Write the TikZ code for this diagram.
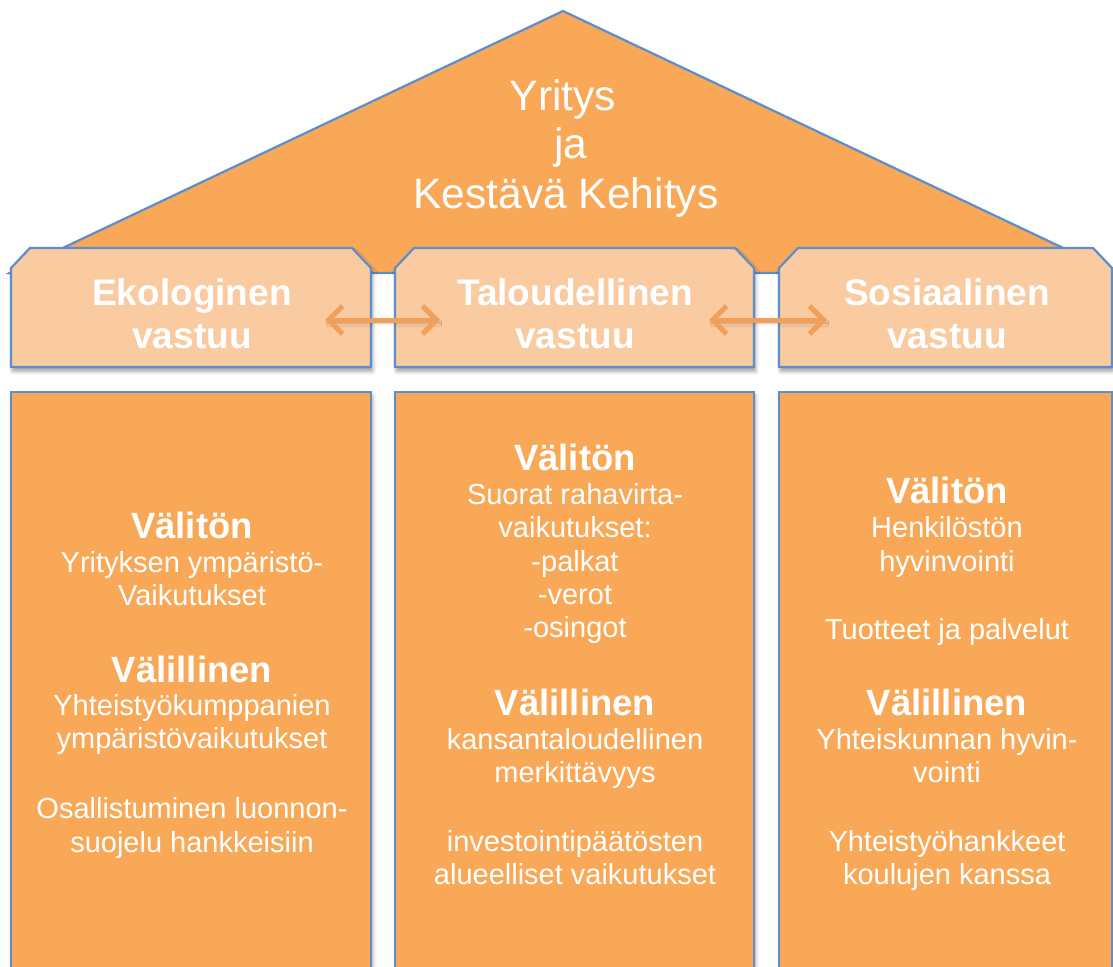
\documentclass[tikz,border=0pt]{standalone}
\usepackage{fontspec}
\setmainfont{Liberation Sans}
\usetikzlibrary{arrows.meta,shadows.blur}
\definecolor{roofc}{RGB}{249,168,87}
\definecolor{capc}{RGB}{250,202,160}
\definecolor{edgec}{RGB}{92,141,204}
\definecolor{arrc}{RGB}{240,160,90}
\tikzset{
  housepart/.style={draw=edgec, line width=2.2pt, line join=miter},
  roofpart/.style={housepart, fill=roofc},
  capbox/.style={housepart, fill=capc,
    blur shadow={shadow xshift=1.5pt, shadow yshift=-4pt, shadow blur radius=4pt, shadow opacity=40}},
  pillar/.style={housepart, fill=roofc,
    blur shadow={shadow xshift=1.5pt, shadow yshift=-4pt, shadow blur radius=4pt, shadow opacity=40}},
  rooftext/.style={text=white, font=\fontsize{42.5}{50}\selectfont, anchor=base, inner sep=0pt},
  captext/.style={text=white, font=\bfseries\fontsize{37}{44}\selectfont, anchor=base, inner sep=0pt},
  hd/.style={text=white, font=\bfseries\fontsize{36.5}{43}\selectfont, anchor=base, inner sep=0pt},
  tx/.style={text=white, font=\fontsize{29}{34}\selectfont, anchor=base, inner sep=0pt},
  link/.style={draw=arrc, line width=5pt,
    {Straight Barb[length=14pt,width=28pt]}-{Straight Barb[length=14pt,width=28pt]},
    blur shadow={shadow xshift=1pt, shadow yshift=-3pt, shadow blur radius=3pt, shadow opacity=25}}
}
\begin{document}
\begin{tikzpicture}[x=1pt,y=-1pt]
\useasboundingbox (0,0) rectangle (1113,966);
\clip (0,0) rectangle (1113,966);

% roof
\draw[roofpart] (10,273) -- (563,11) -- (1116,273) -- cycle;
\node[rooftext] (r1) at (563,110) {Yritys};
\node[rooftext] (r2) at (571,158) {ja};
\node[rooftext] (r3) at (566,208) {Kestävä Kehitys};

% pillars
\draw[pillar] (11,392) rectangle (371,990);
\draw[pillar] (395,392) rectangle (754,990);
\draw[pillar] (779,392) rectangle (1112,990);

% capitals with chamfered tops
\draw[capbox] (11,367) -- (11,268) -- (30,248) -- (352,248) -- (371,268) -- (371,367) -- cycle;
\draw[capbox] (395,367) -- (395,268) -- (414,248) -- (735,248) -- (754,268) -- (754,367) -- cycle;
\draw[capbox] (779,367) -- (779,268) -- (798,248) -- (1093,248) -- (1112,268) -- (1112,367) -- cycle;

\node[captext] (eko1) at (192,305) {Ekologinen};
\node[captext] (eko2) at (192,348) {vastuu};
\node[captext] (tal1) at (575,305) {Taloudellinen};
\node[captext] (tal2) at (575,348) {vastuu};
\node[captext] (sos1) at (947,305) {Sosiaalinen};
\node[captext] (sos2) at (947,348) {vastuu};

% links between the capitals
\coordinate (ekoR) at (325,320);
\coordinate (talL) at (440,320);
\coordinate (talR) at (709,320);
\coordinate (sosL) at (827,320);
\draw[link] (ekoR) -- (talL);
\draw[link] (talR) -- (sosL);

% ecological column
\foreach \y/\t [count=\i] in {538/Välitön, 682/Välillinen}
  \node[hd] (ekoH\i) at (192,\y) {\t};
\foreach \y/\t [count=\i] in {572/Yrityksen ympäristö-, 605/Vaikutukset,
    715/Yhteistyökumppanien, 748/ympäristövaikutukset,
    818/Osallistuminen luonnon-, 852/suojelu hankkeisiin}
  \node[tx] (ekoT\i) at (192,\y) {\t};

% economic column
\foreach \y/\t [count=\i] in {470/Välitön, 715/Välillinen}
  \node[hd] (talH\i) at (575,\y) {\t};
\foreach \y/\t [count=\i] in {504/Suorat rahavirta-, 537/vaikutukset:,
    571/-palkat, 604/-verot, 637/-osingot,
    749/kansantaloudellinen, 782/merkittävyys,
    851/investointipäätösten, 884/alueelliset vaikutukset}
  \node[tx] (talT\i) at (575,\y) {\t};

% social column
\foreach \y/\t [count=\i] in {503/Välitön, 715/Välillinen}
  \node[hd] (sosH\i) at (947,\y) {\t};
\foreach \y/\t [count=\i] in {537/Henkilöstön, 571/hyvinvointi,
    639/Tuotteet ja palvelut,
    749/Yhteiskunnan hyvin-, 782/vointi,
    851/Yhteistyöhankkeet, 884/koulujen kanssa}
  \node[tx] (sosT\i) at (947,\y) {\t};
\end{tikzpicture}
\end{document}
